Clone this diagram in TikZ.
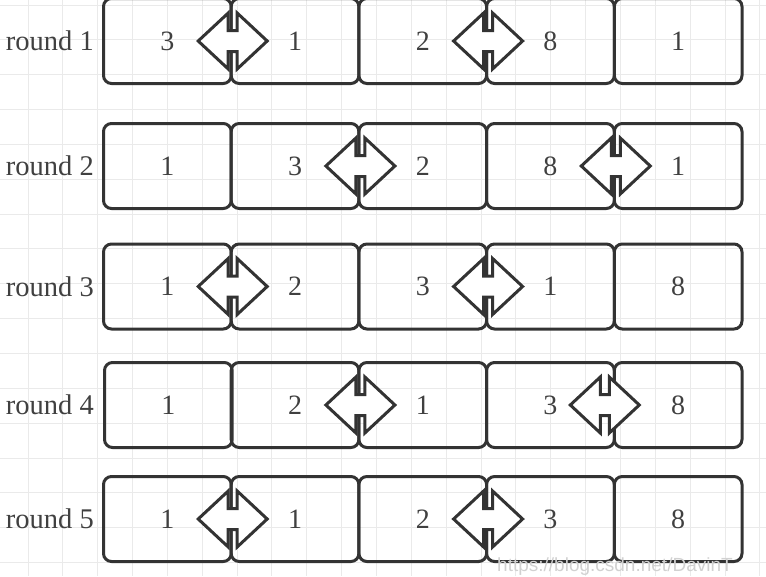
\documentclass[tikz,border=0pt]{standalone}
\usepackage{fontspec}
\setmainfont{Liberation Serif}
\setsansfont{Liberation Sans}
\usetikzlibrary{shapes.arrows}

\definecolor{boxline}{RGB}{51,51,51}
\definecolor{numtext}{RGB}{64,64,64}
\definecolor{gridline}{RGB}{234,234,234}

\tikzset{
  cell/.style={rectangle, draw=boxline, line width=3pt, rounded corners=8pt,
    minimum width=127.7pt, minimum height=85pt, inner sep=0pt,
    text=numtext, font=\fontsize{28}{32}\selectfont},
  swaparrow/.style={double arrow, draw=boxline, fill=white, line width=3pt,
    minimum height=69pt, inner xsep=0pt, inner ysep=9pt,
    double arrow head extend=17.5pt, double arrow tip angle=86},
  roundlabel/.style={anchor=east, inner sep=0pt, text=numtext,
    font=\fontsize{28.5}{32}\selectfont}
}

\begin{document}
\begin{tikzpicture}[x=1pt, y=-1pt]

      \useasboundingbox (0,0) rectangle (766,576);

      % grid behind
      \foreach \gx in {0,...,21}
        \draw[gridline, line width=1pt] (28+34.85*\gx,0) -- (28+34.85*\gx,576);
      \foreach \gy in {0,...,16}
        \draw[gridline, line width=1pt] (0,5+34.85*\gy) -- (766,5+34.85*\gy);

      \begin{scope}[every node/.style={roundlabel}]
        \node (l1) at (94,41)    {round 1};
        \node (l2) at (94,166)   {round 2};
        \node (l3) at (94,286.5) {round 3};
        \node (l4) at (94,405)   {round 4};
        \node (l5) at (94,519)   {round 5};
      \end{scope}

      \begin{scope}[every node/.style={cell}]
        \node (11) at (167.35,41) {3};
        \node (12) at (295.05,41) {1};
        \node (13) at (422.75,41) {2};
        \node (14) at (550.45,41) {8};
        \node (15) at (678.15,41) {1};

        \node (21) at (167.35,166) {1};
        \node (22) at (295.05,166) {3};
        \node (23) at (422.75,166) {2};
        \node (24) at (550.45,166) {8};
        \node (25) at (678.15,166) {1};

        \node (31) at (167.35,286.5) {1};
        \node (32) at (295.05,286.5) {2};
        \node (33) at (422.75,286.5) {3};
        \node (34) at (550.45,286.5) {1};
        \node (35) at (678.15,286.5) {8};

        \node (41) at (168.35,405) {1};
        \node (42) at (295.05,405) {2};
        \node (43) at (422.75,405) {1};
        \node (44) at (550.45,405) {3};
        \node (45) at (678.15,405) {8};

        \node (51) at (167.35,519) {1};
        \node (52) at (295.05,519) {1};
        \node (53) at (422.75,519) {2};
        \node (54) at (550.45,519) {3};
        \node (55) at (678.15,519) {8};
      \end{scope}

      \begin{scope}[every node/.style={swaparrow}]
        \node (a11) at (11.east) {};
        \node (a12) at (13.east) {};
        \node (a21) at (22.east) {};
        \node (a22) at (24.east) {};
        \node (a31) at (31.east) {};
        \node (a32) at (33.east) {};
        \node (a41) at (42.east) {};
        \node (a42) at ([xshift=-11pt]44.east) {};
        \node (a51) at (51.east) {};
        \node (a52) at (53.east) {};
      \end{scope}

      % watermark
      \node[anchor=base west, inner sep=0pt, text=black!18,
        font=\sffamily\fontsize{19}{22}\selectfont] (wm) at (497,571) {https://blog.csdn.net/DavinT};

    \end{tikzpicture}
\end{document}
